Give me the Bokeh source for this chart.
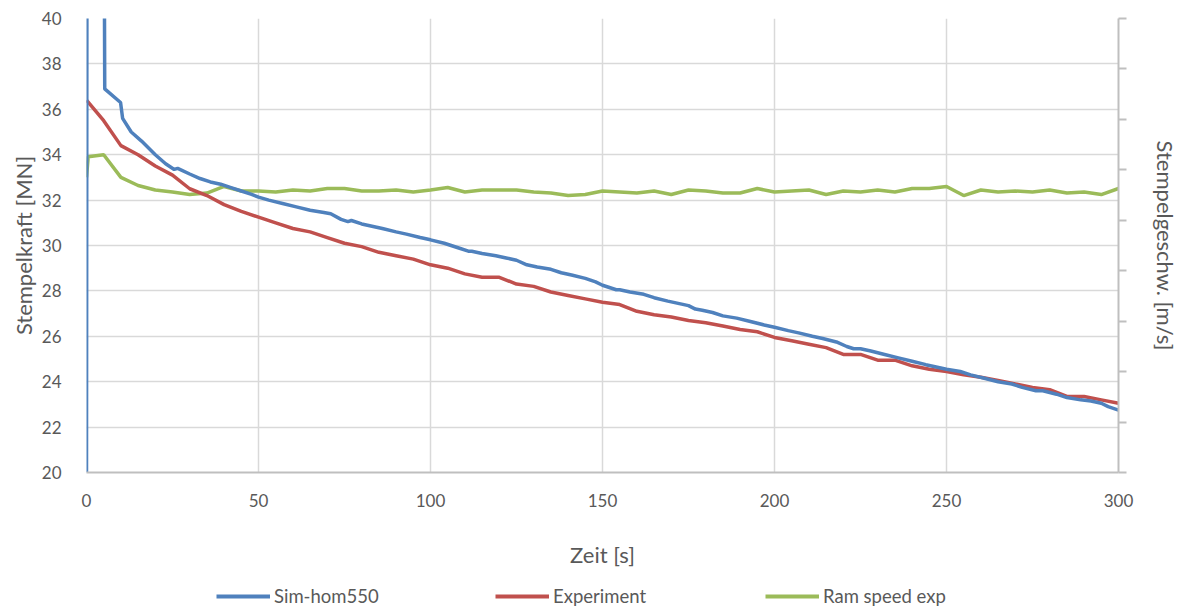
from bokeh.plotting import figure
from bokeh.models import (LinearAxis, Range1d, FixedTicker, Legend, LegendItem)
from bokeh.layouts import column
from bokeh.embed import file_html
from bokeh.resources import INLINE

# ---------------- data ----------------
sim_t = [0, 0.2, 4.9, 5.3, 9.9, 10.5, 13, 16, 20, 23, 25.5, 26.5, 30, 33, 36, 39, 42, 45, 48, 50,
         53, 57, 61, 65, 69, 71, 74, 76, 77, 80, 83, 86, 90, 93, 97, 100, 104, 108, 111, 112,
         115, 119, 122, 125, 128, 131, 135, 138, 141, 145, 148, 150, 154, 155, 158, 162, 165,
         169, 172, 175, 177, 179, 182, 185, 189, 193, 197, 200, 204, 207, 211, 214, 218, 221,
         223, 225, 228, 232, 236, 240, 244, 247, 250, 254, 257, 261, 265, 269, 272, 276, 278,
         282, 285, 289, 292, 295, 297, 300]
sim_f = [20, 55, 55, 36.9, 36.3, 35.6, 35.0, 34.6, 34.0, 33.6, 33.35, 33.4, 33.15, 32.95, 32.8,
         32.7, 32.55, 32.4, 32.25, 32.13, 32.0, 31.85, 31.7, 31.55, 31.45, 31.4, 31.15, 31.05,
         31.1, 30.95, 30.85, 30.75, 30.6, 30.5, 30.35, 30.25, 30.1, 29.9, 29.75, 29.75, 29.65,
         29.55, 29.45, 29.35, 29.15, 29.05, 28.95, 28.8, 28.7, 28.55, 28.4, 28.25, 28.05, 28.05,
         27.95, 27.85, 27.7, 27.55, 27.45, 27.35, 27.2, 27.15, 27.05, 26.9, 26.8, 26.65, 26.5,
         26.4, 26.25, 26.15, 26.0, 25.9, 25.75, 25.55, 25.45, 25.45, 25.35, 25.2, 25.05, 24.9,
         24.75, 24.65, 24.55, 24.45, 24.3, 24.15, 24.0, 23.9, 23.75, 23.6, 23.6, 23.45, 23.3,
         23.2, 23.15, 23.05, 22.9, 22.75]

exp_t = list(range(0, 301, 5))
exp_f = [36.4, 35.5, 34.4, 34.0, 33.5, 33.1, 32.5, 32.2, 31.8, 31.5, 31.25, 31.0, 30.75, 30.6,
         30.35, 30.1, 29.95, 29.7, 29.55, 29.4, 29.15, 29.0, 28.75, 28.6, 28.6, 28.3, 28.2,
         27.95, 27.8, 27.65, 27.5, 27.4, 27.1, 26.95, 26.85, 26.7, 26.6, 26.45, 26.3, 26.2,
         25.95, 25.8, 25.65, 25.5, 25.2, 25.2, 24.95, 24.95, 24.7, 24.55, 24.45, 24.3, 24.2,
         24.05, 23.9, 23.75, 23.65, 23.35, 23.35, 23.2, 23.05]

ram_t = [0, 0.5] + list(range(5, 301, 5))
ram_v = [5.85, 6.26, 6.30, 5.85, 5.69, 5.60, 5.56, 5.51, 5.54, 5.67, 5.58, 5.58, 5.56, 5.60,
         5.58, 5.63, 5.63, 5.58, 5.58, 5.60, 5.56, 5.60, 5.65, 5.56, 5.60, 5.60, 5.60, 5.56,
         5.54, 5.49, 5.51, 5.58, 5.56, 5.54, 5.58, 5.51, 5.60, 5.58, 5.54, 5.54, 5.63, 5.56,
         5.58, 5.60, 5.51, 5.58, 5.56, 5.60, 5.56, 5.63, 5.63, 5.67, 5.49, 5.60, 5.56, 5.58,
         5.56, 5.60, 5.54, 5.56, 5.51, 5.63]

x_ticks = [0, 50, 100, 150, 200, 250, 300]
y_ticks = list(range(20, 41, 2))
y2_ticks = list(range(0, 10))

series_names = ["Sim-hom550", "Experiment", "Ram speed exp"]
series_colors = ["#4f81bd", "#c0504d", "#9bbb59"]

# ---------------- figure ----------------
FONT = "Lato"
TXT = "#595959"

p = figure(width=1181, height=570, output_backend="svg", toolbar_location=None,
           x_range=Range1d(0, 300), y_range=Range1d(20, 40),
           min_border_left=86, min_border_right=62, min_border_top=18, min_border_bottom=98,
           background_fill_color="white", border_fill_color="white")
p.outline_line_color = None
p.extra_y_ranges = {"speed": Range1d(0, 9)}

r1 = p.line(sim_t, sim_f, line_color=series_colors[0], line_width=3.5)
r2 = p.line(exp_t, exp_f, line_color=series_colors[1], line_width=3.5)
r3 = p.line(ram_t, ram_v, line_color=series_colors[2], line_width=3.5, y_range_name="speed")
p.renderers = [r3, r2, r1]

# grids
for g in (p.xgrid, p.ygrid):
    g.grid_line_color = "#d9d9d9"
    g.grid_line_width = 1.5
p.xgrid.ticker = FixedTicker(ticks=x_ticks)
p.ygrid.ticker = FixedTicker(ticks=y_ticks)

# x axis
xa = p.xaxis[0]
xa.ticker = FixedTicker(ticks=x_ticks)
xa.axis_line_color = "#bfbfbf"
xa.axis_line_width = 2
xa.major_tick_line_color = None
xa.minor_tick_line_color = None
xa.major_label_text_font = FONT
xa.major_label_text_font_size = "17px"
xa.major_label_text_color = TXT
xa.major_label_standoff = 15
xa.axis_label = "Zeit [s]"
xa.axis_label_text_font = FONT
xa.axis_label_text_font_size = "22px"
xa.axis_label_text_font_style = "normal"
xa.axis_label_text_color = TXT
xa.axis_label_standoff = 31

# left y axis
ya = p.yaxis[0]
ya.ticker = FixedTicker(ticks=y_ticks)
ya.axis_line_color = None
ya.major_tick_line_color = None
ya.minor_tick_line_color = None
ya.major_label_text_font = FONT
ya.major_label_text_font_size = "17px"
ya.major_label_text_color = TXT
ya.major_label_standoff = 19
ya.axis_label = "Stempelkraft [MN]"
ya.axis_label_text_font = FONT
ya.axis_label_text_font_size = "22px"
ya.axis_label_text_font_style = "normal"
ya.axis_label_text_color = TXT
ya.axis_label_standoff = 2

# right y axis (no labels)
ra = LinearAxis(y_range_name="speed", ticker=FixedTicker(ticks=y2_ticks))
ra.major_label_overrides = {t: "" for t in y2_ticks}
ra.axis_line_color = "#bfbfbf"
ra.axis_line_width = 2
ra.major_tick_line_color = "#bfbfbf"
ra.major_tick_line_width = 2
ra.major_tick_in = 0
ra.major_tick_out = 8
ra.minor_tick_line_color = None
ra.major_label_standoff = 0
ra.major_label_text_font_size = "16px"
ra.axis_label = "Stempelgeschw. [m/s]"
ra.axis_label_text_font = FONT
ra.axis_label_text_font_size = "22px"
ra.axis_label_text_font_style = "normal"
ra.axis_label_text_color = TXT
ra.axis_label_standoff = 25
p.add_layout(ra, "right")

# ---------------- legend strip ----------------
lf = figure(width=1181, height=38, output_backend="svg", toolbar_location=None,
            x_range=Range1d(0, 1), y_range=Range1d(0, 1),
            x_axis_type=None, y_axis_type=None,
            min_border_left=0, min_border_right=0, min_border_top=0, min_border_bottom=0,
            background_fill_color="white", border_fill_color="white")
lf.outline_line_color = None
lf.xgrid.visible = False
lf.ygrid.visible = False

# the strip's frame is aligned with the main plot frame (starts at x=86)
legend_x = [130, 409, 679]
for name, col, lx in zip(series_names, series_colors, legend_x):
    dr = lf.line([5, 6], [5, 6], line_color=col, line_width=4)
    lg = Legend(items=[LegendItem(label=name, renderers=[dr])],
                location=(lx, 1), orientation="horizontal",
                glyph_width=54, glyph_height=20, label_standoff=4,
                padding=0, margin=0, border_line_color=None,
                background_fill_alpha=0,
                label_text_font=FONT, label_text_font_size="18.5px",
                label_text_color=TXT, label_height=20)
    lf.add_layout(lg, "center")

layout = column(p, lf, spacing=0)
open("out.html", "w").write(file_html(layout, INLINE))
